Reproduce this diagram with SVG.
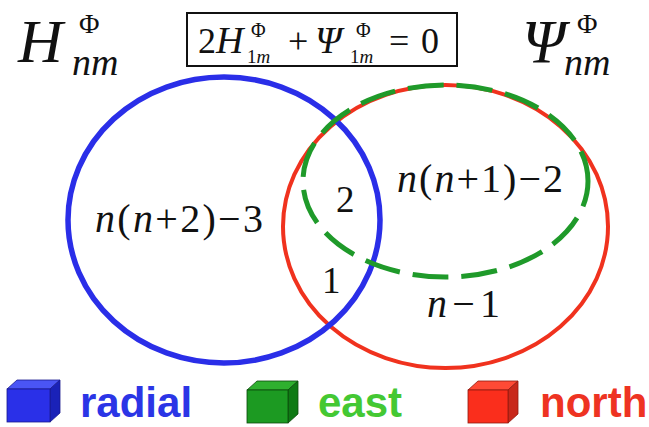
<svg xmlns="http://www.w3.org/2000/svg" width="649" height="427" viewBox="0 0 649 427">
<style>
.m{font-family:"Liberation Serif","DejaVu Serif",serif;fill:#111}
.i{font-style:italic}
.lg{font-family:"Liberation Sans",Arial,sans-serif;font-weight:bold;font-size:42px}
</style>
<rect width="649" height="427" fill="#ffffff"/>
<g id="connectors"></g>
<g id="north-set">
<ellipse cx="445.5" cy="226.5" rx="162.5" ry="141.5" fill="none" stroke="#f0321e" stroke-width="4"/>
</g>
<g id="radial-set">
<ellipse cx="224" cy="220" rx="156" ry="143" fill="none" stroke="#2a2ee8" stroke-width="5.5"/>
</g>
<g id="east-set">
<ellipse cx="445.5" cy="181" rx="142.5" ry="96" fill="none" stroke="#1f9a2a" stroke-width="5" stroke-dasharray="36 13" stroke-dashoffset="10"/>
</g>
<g id="H-label">
<text class="m i" x="18" y="62" font-size="62">H</text>
<text class="m" x="79" y="33" font-size="28">Φ</text>
<text class="m i" x="72" y="75" font-size="38">nm</text>
</g>
<g id="Psi-label">
<text class="m i" x="522" y="62" font-size="62">Ψ</text>
<text class="m" x="577" y="33" font-size="28">Φ</text>
<text class="m i" x="564" y="75" font-size="38">nm</text>
</g>
<g id="constraint">
<rect x="187" y="13" width="270" height="53" fill="none" stroke="#111" stroke-width="2"/>
<text class="m" x="198" y="53" font-size="36">2<tspan class="i" font-size="38">H</tspan></text>
<text class="m" x="251" y="37" font-size="20">Φ</text>
<text class="m" x="247" y="63" font-size="19">1<tspan class="i">m</tspan></text>
<text class="m" x="288" y="53" font-size="36">+</text>
<text class="m i" x="315" y="53" font-size="38">Ψ</text>
<text class="m" x="356" y="37" font-size="20">Φ</text>
<text class="m" x="350" y="63" font-size="19">1<tspan class="i">m</tspan></text>
<text class="m" x="389" y="53" font-size="36">=</text>
<text class="m" x="421" y="53" font-size="36">0</text>
</g>
<g id="region-radial">
<text class="m" x="95" y="232" font-size="40" textLength="168" lengthAdjust="spacing"><tspan class="i">n</tspan>(<tspan class="i">n</tspan>+2)−3</text>
</g>
<g id="region-east">
<text class="m" x="397" y="192" font-size="40" textLength="166" lengthAdjust="spacing"><tspan class="i">n</tspan>(<tspan class="i">n</tspan>+1)−2</text>
</g>
<g id="region-2">
<text class="m" x="336" y="212" font-size="37">2</text>
</g>
<g id="region-1">
<text class="m" x="322" y="293" font-size="37">1</text>
</g>
<g id="region-north">
<text class="m" x="427" y="317" font-size="40" textLength="73" lengthAdjust="spacing"><tspan class="i">n</tspan>−1</text>
</g>
<g id="legend-radial">
<polygon points="7,389 17,380 60,380 50,389" fill="#4a55f5" stroke="#1a1a90" stroke-width="0.8"/>
<polygon points="50,389 60,380 60,413 50,422" fill="#1a22b8" stroke="#1a1a90" stroke-width="0.8"/>
<rect x="7" y="389" width="43" height="33" fill="#2a30e8" stroke="#1a1a90" stroke-width="0.8"/>
<text class="lg" x="80" y="417" fill="#2b35e6">radial</text>
</g>
<g id="legend-east">
<polygon points="247,390 257,381 298,381 288,390" fill="#2fb02f" stroke="#0c4a0c" stroke-width="0.8"/>
<polygon points="288,390 298,381 298,414 288,423" fill="#0f7a14" stroke="#0c4a0c" stroke-width="0.8"/>
<rect x="247" y="390" width="41" height="33" fill="#1c9a22" stroke="#0c4a0c" stroke-width="0.8"/>
<text class="lg" x="318" y="417" fill="#44c833">east</text>
</g>
<g id="legend-north">
<polygon points="468,390 478,381 518,381 508,390" fill="#ff4a35" stroke="#901a10" stroke-width="0.8"/>
<polygon points="508,390 518,381 518,414 508,423" fill="#c8281a" stroke="#901a10" stroke-width="0.8"/>
<rect x="468" y="390" width="40" height="33" fill="#fa2e1c" stroke="#901a10" stroke-width="0.8"/>
<text class="lg" x="540" y="417" fill="#ee3322">north</text>
</g>
</svg>
